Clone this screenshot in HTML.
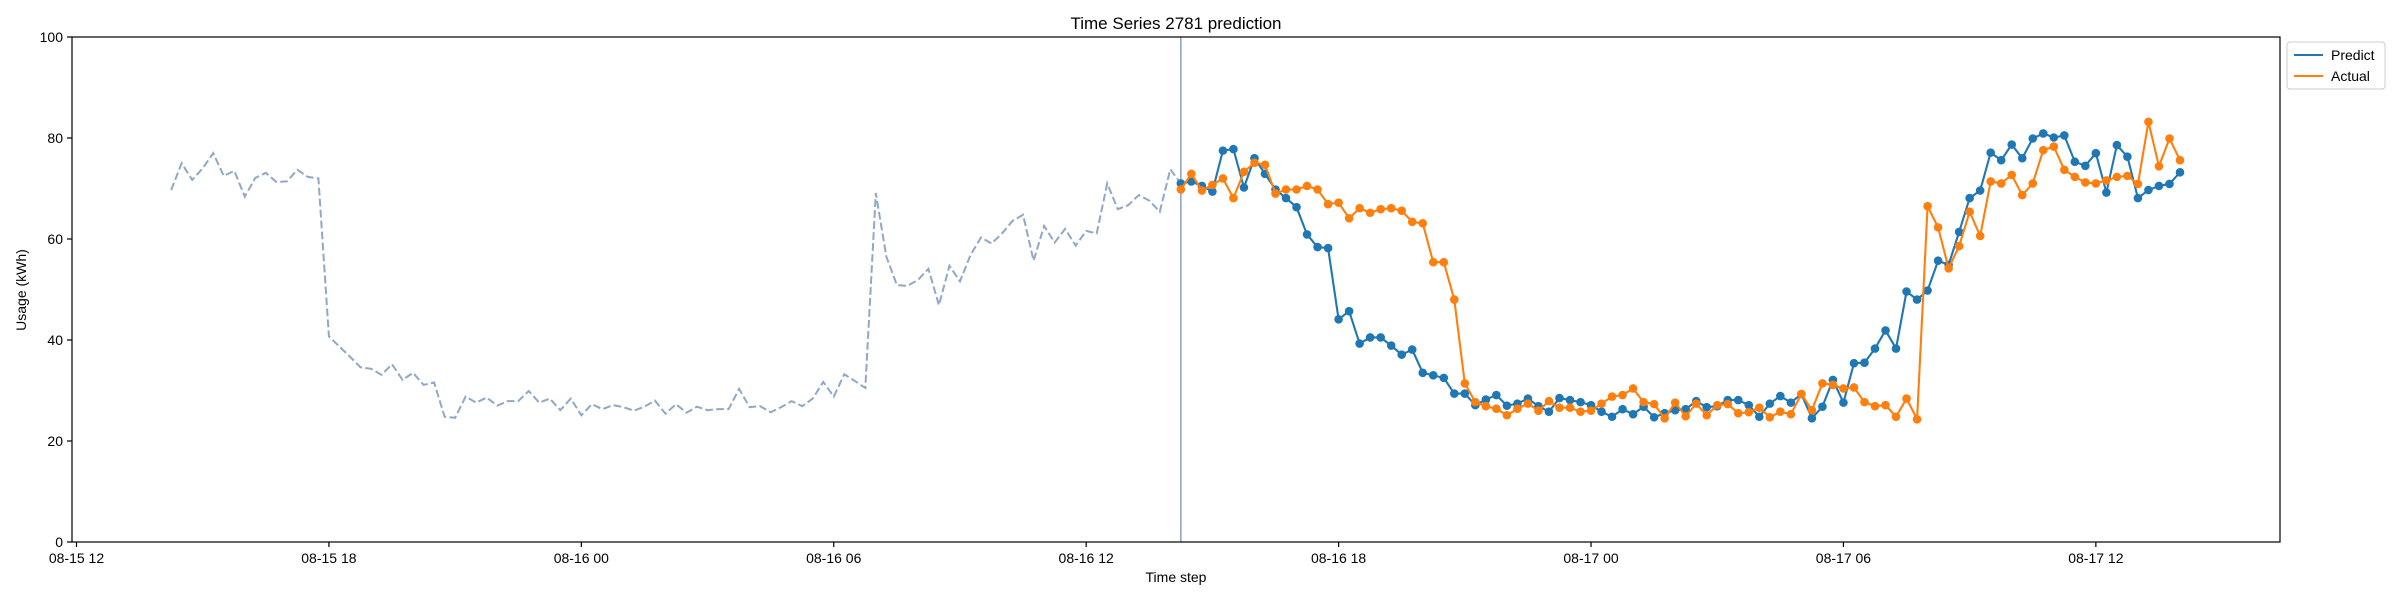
<!DOCTYPE html>
<html><head><meta charset="utf-8"><style>
html,body{margin:0;padding:0;background:#fff;}
svg{display:block;font-family:"Liberation Sans","DejaVu Sans",sans-serif;}
</style></head><body>
<svg id="chart" width="2400" height="600" viewBox="0 0 2400 600">
<rect x="0" y="0" width="2400" height="600" fill="#fff"/>
<text x="1176" y="29" font-size="17" text-anchor="middle">Time Series 2781 prediction</text>
<text x="1176" y="582" font-size="14" text-anchor="middle">Time step</text>
<text x="26" y="290" font-size="14" text-anchor="middle" transform="rotate(-90 26 290)">Usage (kWh)</text>
<g id="plot"></g>
<rect x="72" y="37" width="2208" height="505" fill="none" stroke="#000" stroke-width="1.2"/>
<g>
<rect x="2287" y="42" width="98" height="47" rx="3" fill="#fff" stroke="#ccc" stroke-width="1"/>
<line x1="2294" y1="55" x2="2323" y2="55" stroke="#1f77b4" stroke-width="2.1"/>
<text x="2331" y="60" font-size="14">Predict</text>
<line x1="2294" y1="76" x2="2323" y2="76" stroke="#ff7f0e" stroke-width="2.1"/>
<text x="2331" y="81" font-size="14">Actual</text>
</g>
</svg>
<script>
const xTickLabels = ["08-15 12","08-15 18","08-16 00","08-16 06","08-16 12","08-16 18","08-17 00","08-17 06","08-17 12"];
const xTickHours = [0,6,12,18,24,30,36,42,48];
const yTicks = [0,20,40,60,80,100];
const historyStartHour = 2.25;
const forecastStartHour = 26.25;
const stepHours = 0.25;
const history = [69.7,75.0,71.7,74.0,77.0,72.5,73.5,68.4,72.1,73.1,71.3,71.4,73.7,72.3,72.0,40.7,38.7,36.7,34.6,34.3,33.1,35.2,32.1,33.5,31.1,31.6,24.8,24.6,28.8,27.6,28.6,27.0,27.9,
27.9,29.9,27.6,28.4,26.1,28.4,25.1,27.3,26.3,27.1,26.7,26.0,26.8,28.0,25.4,27.3,25.6,26.8,26.1,26.3,26.3,30.3,26.7,26.9,25.7,26.7,27.9,26.9,28.4,31.7,28.8,33.2,
31.9,30.5,69.1,56.5,50.9,50.7,51.9,54.1,46.9,54.7,51.6,56.8,60.3,59.1,61.1,63.6,64.8,55.7,62.6,59.3,62.0,58.7,61.6,61.1,71.0,65.9,66.7,68.7,67.6,65.4,73.8,71.0];
const predict = [71.0,71.4,70.5,69.4,77.5,77.8,70.2,76.0,72.9,69.8,68.1,66.3,60.9,58.4,58.2,44.1,45.7,39.3,40.5,40.5,38.9,37.1,38.1,33.5,33.0,32.5,29.4,29.4,27.1,28.2,29.1,27.0,27.4,28.4,26.9,25.8,28.5,28.1,27.7,27.1,25.8,24.8,26.3,25.3,26.8,24.7,25.5,26.1,26.3,27.9,26.7,26.9,28.1,28.1,27.1,24.8,27.4,28.9,27.6,29.3,24.5,26.8,32.1,27.6,35.4,35.5,38.3,41.9,38.3,49.6,48.0,49.8,55.7,54.9,61.4,68.1,69.6,77.1,75.6,78.7,76.0,79.9,80.9,80.1,80.5,75.3,74.5,77.0,69.2,78.6,76.3,68.1,69.7,70.5,70.9,73.2];
const actual = [69.8,72.9,69.6,70.7,72.0,68.1,73.3,75.1,74.7,69.0,69.8,69.8,70.5,69.8,66.9,67.2,64.1,66.1,65.2,65.9,66.1,65.6,63.4,63.1,55.4,55.4,48.0,31.4,27.7,26.9,26.4,25.1,26.4,27.4,26.0,27.9,26.6,26.6,25.8,26.0,27.4,28.8,29.1,30.4,27.7,27.3,24.5,27.6,24.9,27.4,25.1,27.1,27.3,25.5,25.7,26.6,24.7,25.8,25.3,29.3,26.1,31.4,31.1,30.4,30.6,27.7,26.9,27.1,24.8,28.4,24.3,66.5,62.3,54.2,58.6,65.4,60.6,71.4,71.0,72.7,68.7,71.0,77.6,78.3,73.7,72.3,71.2,71.0,71.6,72.3,72.5,70.9,83.2,74.4,79.9,75.6];

const NS = "http://www.w3.org/2000/svg";
const X0 = 76.5, PXH = 42.07, YB = 542, YT = 37;
function xs(h){ return X0 + h*PXH; }
function ys(v){ return YB - (v/100)*(YB-YT); }
const plot = document.getElementById('plot');
function mk(tag, attrs){ const e=document.createElementNS(NS,tag); for(const k in attrs) e.setAttribute(k,attrs[k]); return e; }

xTickHours.forEach((h,i)=>{
  const g = mk('g',{});
  
  
  g.appendChild(mk('line',{x1:xs(h),y1:YB,x2:xs(h),y2:YB+5,stroke:'#000','stroke-width':1.2}));
  const t = mk('text',{x:xs(h),y:YB+21,'font-size':14,'text-anchor':'middle'});
  t.textContent = xTickLabels[i];
  g.appendChild(t);
  plot.appendChild(g);
});
yTicks.forEach(v=>{
  const g = mk('g',{});
  
  
  g.appendChild(mk('line',{x1:67,y1:ys(v),x2:72,y2:ys(v),stroke:'#000','stroke-width':1.2}));
  const t = mk('text',{x:63,y:ys(v)+5,'font-size':14,'text-anchor':'end'});
  t.textContent = String(v);
  g.appendChild(t);
  plot.appendChild(g);
});

const vl = mk('line',{x1:xs(forecastStartHour),y1:YT,x2:xs(forecastStartHour),y2:YB,stroke:'#8b9dc3','stroke-width':1.5});


plot.appendChild(vl);

const hp = mk('polyline',{points:history.map((v,i)=>xs(historyStartHour+i*stepHours)+','+ys(v)).join(' '),fill:'none',stroke:'#8fa8c6','stroke-width':2,'stroke-dasharray':'7.7 3.3'});


plot.appendChild(hp);

function series(arr,color,name){
  const g = mk('g',{});
  
  
  const pl = mk('polyline',{points:arr.map((v,i)=>xs(forecastStartHour+i*stepHours)+','+ys(v)).join(' '),fill:'none',stroke:color,'stroke-width':2.1});
  
  
  g.appendChild(pl);
  arr.forEach((v,i)=>{
    const c = mk('circle',{cx:xs(forecastStartHour+i*stepHours),cy:ys(v),r:4.3,fill:color});
    
    
    g.appendChild(c);
  });
  plot.appendChild(g);
}
series(predict,'#1f77b4','predict');
series(actual,'#ff7f0e','actual');
</script>
</body></html>
